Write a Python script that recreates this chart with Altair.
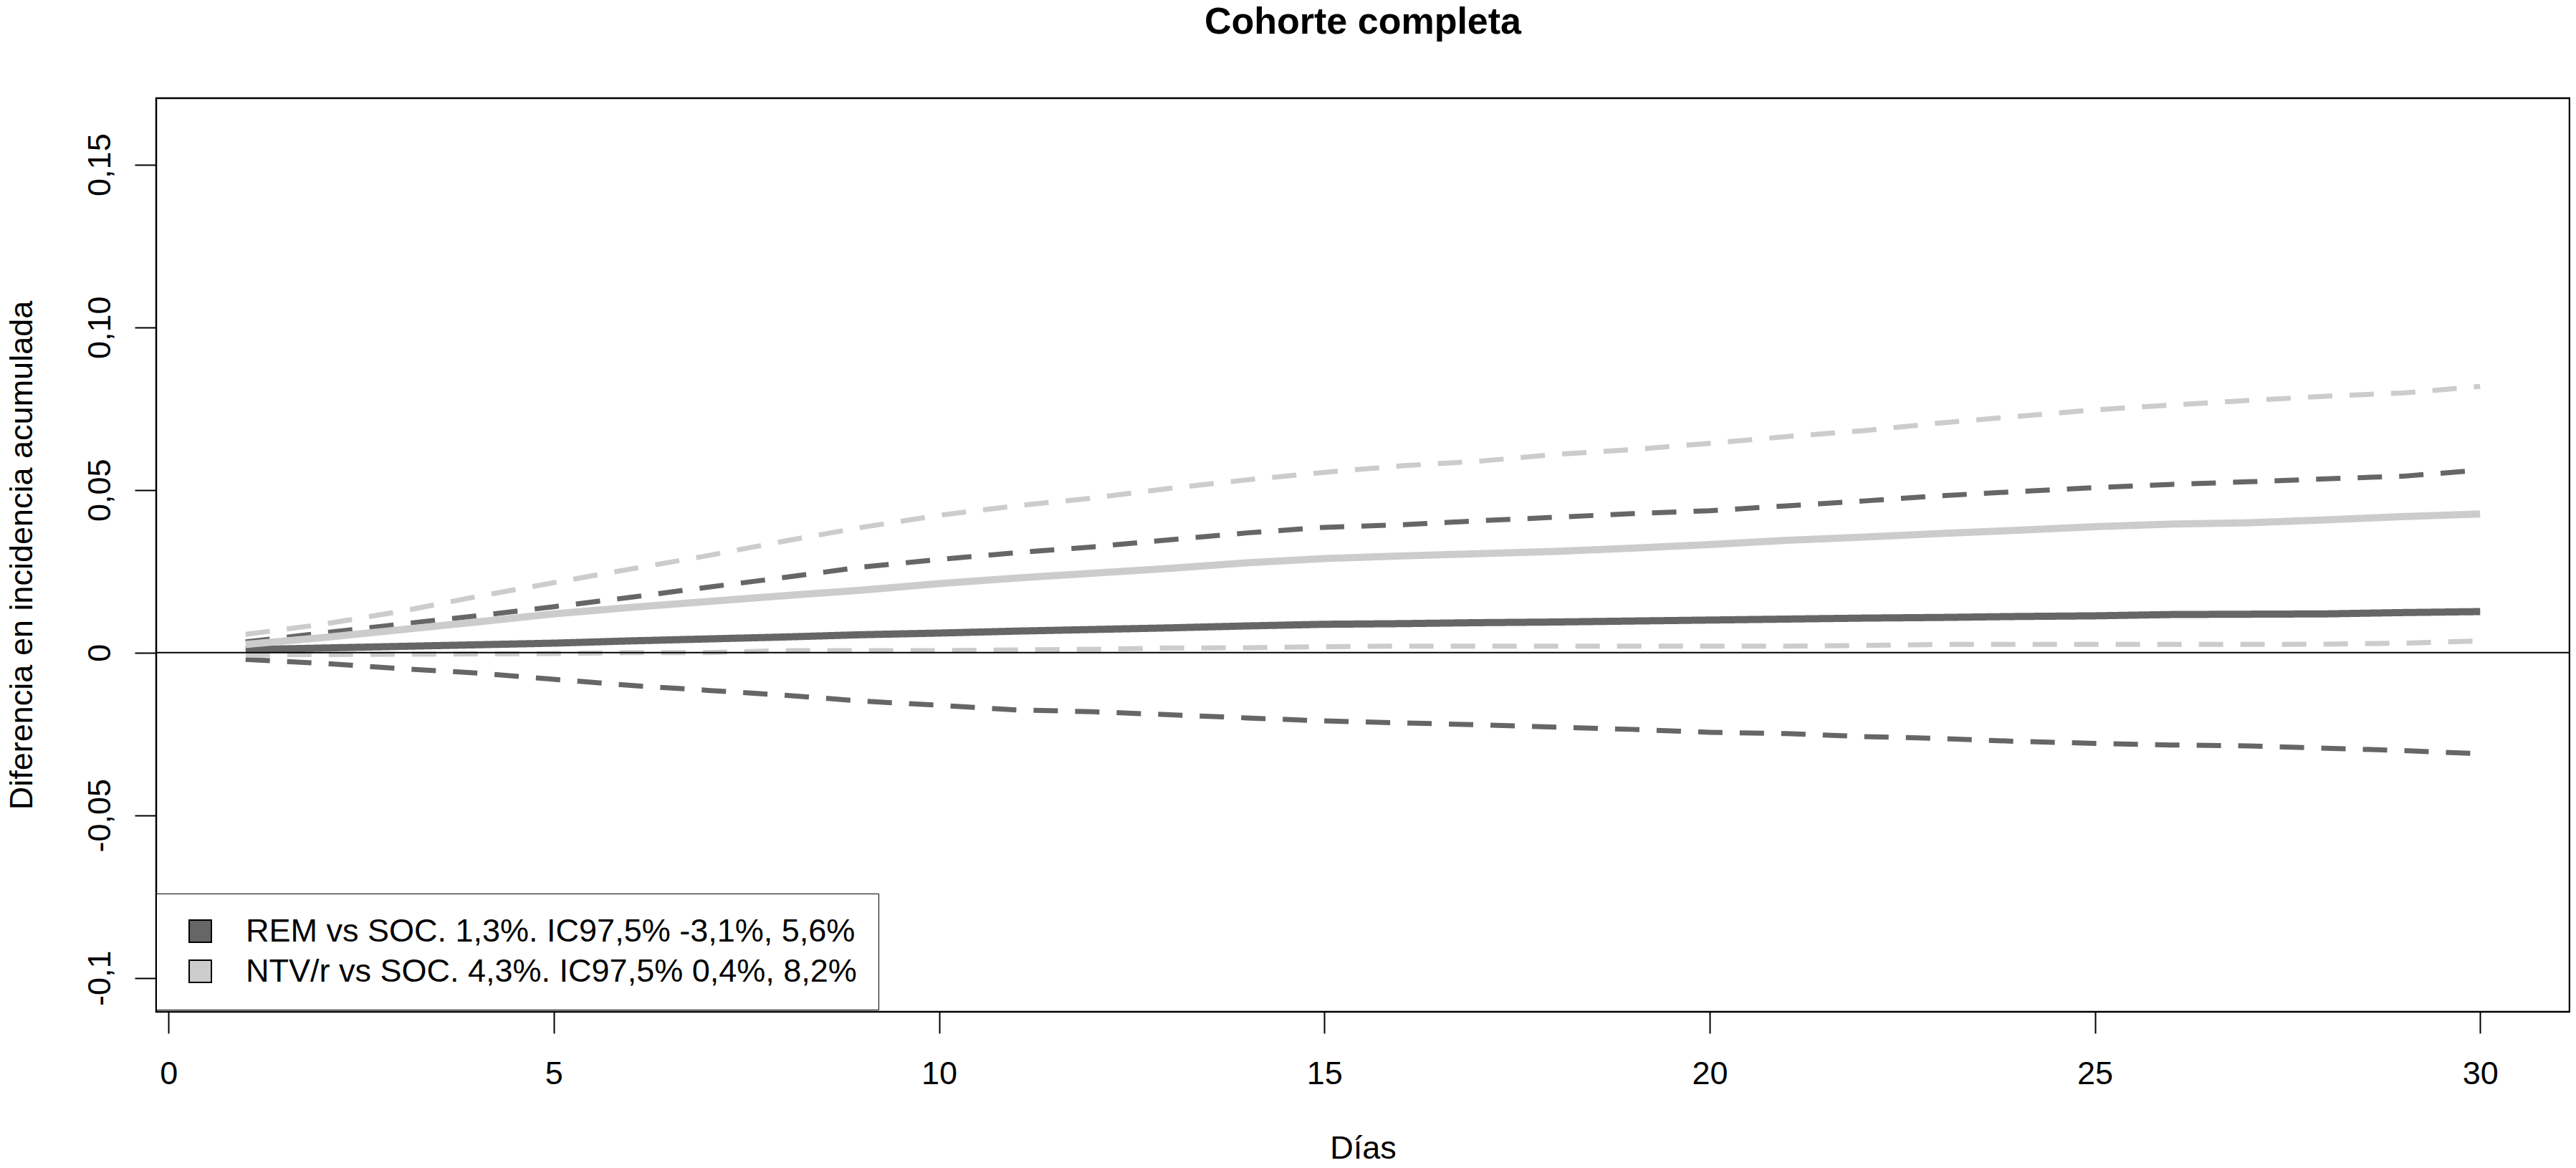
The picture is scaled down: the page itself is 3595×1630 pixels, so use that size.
import altair as alt
import pandas as pd

# ---- data ----
days = list(range(1, 31))

rem_est = [0.0009, 0.0014, 0.0019, 0.0024, 0.0029, 0.0036, 0.0042, 0.0048, 0.0055, 0.0060,
           0.0066, 0.0071, 0.0076, 0.0082, 0.0087, 0.0089, 0.0092, 0.0094, 0.0097, 0.0100,
           0.0103, 0.0106, 0.0108, 0.0111, 0.0113, 0.0117, 0.0118, 0.0119, 0.0123, 0.0126]
rem_up = [0.0033, 0.0060, 0.0087, 0.0113, 0.0141, 0.0170, 0.0201, 0.0231, 0.0263, 0.0286,
          0.0307, 0.0325, 0.0347, 0.0368, 0.0385, 0.0393, 0.0405, 0.0416, 0.0427, 0.0436,
          0.0451, 0.0466, 0.0482, 0.0495, 0.0507, 0.0517, 0.0525, 0.0534, 0.0542, 0.0561]
rem_low = [-0.0021, -0.0033, -0.0049, -0.0063, -0.0082, -0.0101, -0.0116, -0.0131, -0.0149, -0.0162,
           -0.0176, -0.0182, -0.0191, -0.0201, -0.0210, -0.0216, -0.0222, -0.0229, -0.0236, -0.0245,
           -0.0249, -0.0258, -0.0264, -0.0273, -0.0279, -0.0284, -0.0287, -0.0294, -0.0301, -0.0311]
ntv_est = [0.0025, 0.0046, 0.0070, 0.0094, 0.0119, 0.0139, 0.0157, 0.0175, 0.0192, 0.0212,
           0.0229, 0.0244, 0.0259, 0.0276, 0.0289, 0.0297, 0.0304, 0.0311, 0.0321, 0.0332,
           0.0345, 0.0355, 0.0366, 0.0376, 0.0387, 0.0395, 0.0399, 0.0408, 0.0418, 0.0426]
ntv_up = [0.0056, 0.0087, 0.0126, 0.0172, 0.0215, 0.0257, 0.0298, 0.0343, 0.0385, 0.0422,
          0.0451, 0.0475, 0.0505, 0.0531, 0.0554, 0.0574, 0.0588, 0.0609, 0.0624, 0.0643,
          0.0664, 0.0682, 0.0706, 0.0726, 0.0746, 0.0761, 0.0775, 0.0788, 0.0798, 0.0818]
ntv_low = [-0.0008, -0.0006, -0.0005, -0.0004, -0.0003, 0.0000, 0.0000, 0.0006, 0.0006, 0.0006,
           0.0008, 0.0010, 0.0014, 0.0015, 0.0018, 0.0020, 0.0020, 0.0020, 0.0020, 0.0020,
           0.0020, 0.0022, 0.0025, 0.0025, 0.0025, 0.0025, 0.0025, 0.0026, 0.0029, 0.0036]

groups = ["REM", "NTV/r"]
group_colors = ["#666666", "#cccccc"]
legend_labels = ["REM vs SOC. 1,3%. IC97,5% -3,1%, 5,6%",
                 "NTV/r vs SOC. 4,3%. IC97,5% 0,4%, 8,2%"]

x_ticks = [0, 5, 10, 15, 20, 25, 30]
y_ticks = [-0.1, -0.05, 0, 0.05, 0.1, 0.15]
y_tick_labels = ["-0,1", "-0,05", "0", "0,05", "0,10", "0,15"]

title_text = "Cohorte completa"
x_title = "Días"
y_title = "Diferencia en incidencia acumulada"

# ---- long table ----
rows = []
for grp, series in [("REM", [("est", rem_est), ("low", rem_low), ("up", rem_up)]),
                    ("NTV/r", [("est", ntv_est), ("low", ntv_low), ("up", ntv_up)])]:
    for kind, vals in series:
        for d, v in zip(days, vals):
            rows.append({"dia": d, "valor": v, "grupo": grp,
                         "tipo": "est" if kind == "est" else "ic",
                         "serie": grp + "_" + kind})
df = pd.DataFrame(rows)

leg_df = pd.DataFrame({"etiqueta": legend_labels, "dia": [1, 1], "valor": [0.0, 0.0]})
zero_df = pd.DataFrame({"valor": [0.0]})
title_df = pd.DataFrame({"t": [title_text]})

FONT = "Liberation Sans"
W, H = 3368, 1275

x_scale = alt.Scale(domain=[-0.16, 31.16], nice=False, zero=False)
y_scale = alt.Scale(domain=[-0.1104, 0.1704], nice=False, zero=False)

label_map = "[" + ",".join("'%s'" % s for s in y_tick_labels) + "]"
idx_list = "[" + ",".join(str(int(round(v * 100))) for v in y_ticks) + "]"
y_label_expr = "%s[indexof(%s, round(datum.value*100))]" % (label_map, idx_list)

x_axis = alt.Axis(values=x_ticks, title=x_title, format="d",
                  tickSize=30, tickWidth=2, tickColor="black",
                  domain=False, grid=False,
                  labelFont=FONT, labelFontSize=45, labelColor="black",
                  labelPadding=70, labelBaseline="alphabetic", labelFlush=False, labelOverlap=False,
                  titleFont=FONT, titleFontSize=45, titleFontWeight="normal", titleColor="black",
                  titleX=W / 2, titleY=204, titleBaseline="alphabetic", titleAlign="center")

y_axis = alt.Axis(values=y_ticks, title=y_title, labelExpr=y_label_expr,
                  tickSize=30, tickWidth=2, tickColor="black",
                  domain=False, grid=False,
                  labelFont=FONT, labelFontSize=45, labelColor="black",
                  labelAngle=270, labelAlign="center", labelBaseline="alphabetic",
                  labelPadding=35, labelFlush=False, labelOverlap=False,
                  titleFont=FONT, titleFontSize=45, titleFontWeight="normal", titleColor="black",
                  titleAngle=270, titleX=-174, titleY=H / 2, titleBaseline="alphabetic",
                  titleAlign="center")

lines = alt.Chart(df).mark_line(clip=True).encode(
    x=alt.X("dia:Q", scale=x_scale, axis=x_axis),
    y=alt.Y("valor:Q", scale=y_scale, axis=y_axis),
    color=alt.Color("grupo:N", scale=alt.Scale(domain=groups, range=group_colors), legend=None),
    strokeDash=alt.StrokeDash("tipo:N", scale=alt.Scale(domain=["est", "ic"], range=[[1, 0], [34, 24]]),
                              legend=None),
    strokeWidth=alt.StrokeWidth("tipo:N", scale=alt.Scale(domain=["est", "ic"], range=[10, 7]),
                                legend=None),
    detail="serie:N",
)

legend_layer = alt.Chart(leg_df).transform_filter("false").mark_square(
    filled=True, stroke="black", strokeWidth=2, opacity=1, clip=True
).encode(
    x=alt.X("dia:Q", scale=x_scale),
    y=alt.Y("valor:Q", scale=y_scale),
    fill=alt.Fill("etiqueta:N",
                  scale=alt.Scale(domain=legend_labels, range=group_colors),
                  legend=alt.Legend(title=None, orient="none", legendX=0, legendY=1110,
                                    strokeColor="black", fillColor="white", padding=30,
                                    symbolType="square", symbolSize=961, symbolOpacity=1,
                                    symbolStrokeColor="black", symbolStrokeWidth=2,
                                    symbolOffset=9,
                                    labelFont=FONT, labelFontSize=45, labelColor="black",
                                    labelOffset=41, rowPadding=10, labelLimit=3000)),
)

zero_line = alt.Chart(zero_df).mark_rule(color="black", strokeWidth=2).encode(
    y=alt.Y("valor:Q", scale=y_scale)
)

title_mark = alt.Chart(title_df).mark_text(
    font=FONT, fontSize=52, fontWeight="bold", color="black",
    align="center", baseline="alphabetic"
).encode(text="t:N", x=alt.value(W / 2), y=alt.value(-90))

chart = alt.layer(lines, legend_layer, zero_line, title_mark).properties(
    width=W, height=H,
    padding={"left": 210, "top": 129, "right": 1, "bottom": 208},
    autosize=alt.AutoSizeParams(type="none"),
    background="white",
).configure_view(stroke="black", strokeWidth=2.5)

chart.save("out.html", embed_options={"renderer": "svg", "actions": False})
